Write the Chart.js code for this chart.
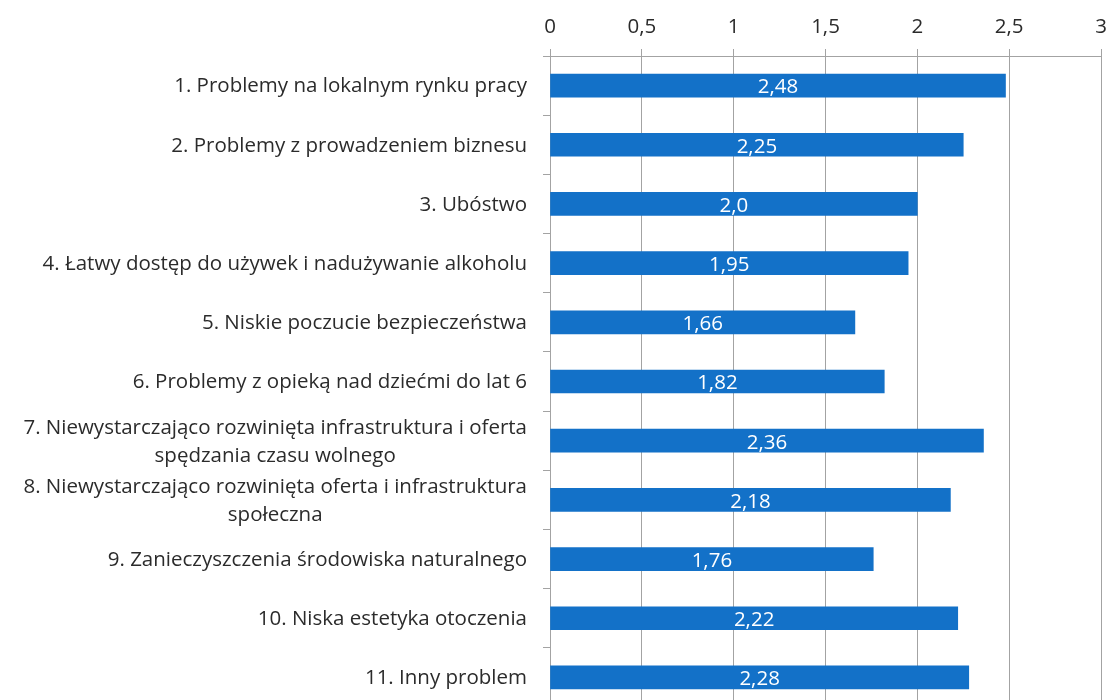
<!DOCTYPE html>
<html lang="pl">
<head>
<meta charset="utf-8">
<title>Problemy</title>
<script src="https://cdn.jsdelivr.net/npm/chart.js@4/dist/chart.umd.min.js"></script>
<style>
  html, body { margin: 0; padding: 0; background: #fff; overflow: hidden; }
  #wrap { width: 1109px; height: 707px; }
</style>
</head>
<body>
<div id="wrap"><canvas id="chart" width="1109" height="707"></canvas></div>
<script>
// kategorie (wiele linii = tablica), wartosci srednie i podzialka osi X
var categories = [
    ['1. Problemy na lokalnym rynku pracy'],
    ['2. Problemy z prowadzeniem biznesu'],
    ['3. Ubóstwo'],
    ['4. Łatwy dostęp do używek i nadużywanie alkoholu'],
    ['5. Niskie poczucie bezpieczeństwa'],
    ['6. Problemy z opieką nad dziećmi do lat 6'],
    ['7. Niewystarczająco rozwinięta infrastruktura i oferta', 'spędzania czasu wolnego'],
    ['8. Niewystarczająco rozwinięta oferta i infrastruktura', 'społeczna'],
    ['9. Zanieczyszczenia środowiska naturalnego'],
    ['10. Niska estetyka otoczenia'],
    ['11. Inny problem']
];
var values = [2.48, 2.25, 2.0, 1.95, 1.66, 1.82, 2.36, 2.18, 1.76, 2.22, 2.28];
var xTicks = [0, 0.5, 1, 1.5, 2, 2.5, 3];

var FONT = '"Open Sans", "Liberation Sans", sans-serif';
var FONT_SIZE = 20.5;
var TEXT = '#2b2b2b';
var GRID = '#a3a3a3';
var BAR = '#1371c8';
var LABEL_RIGHT = 527;
var LINE_GAP = 28;

function plNumber(v) {
    return (v % 1 === 0 ? v.toFixed(1) : String(v)).replace('.', ',');
}

// etykiety kategorii: blok wyrownany do prawej, linie wysrodkowane wzgledem siebie
var categoryLabels = {
    id: 'categoryLabels',
    afterDraw: function (chart) {
        var ctx = chart.ctx;
        var y = chart.scales.y;
        ctx.save();
        ctx.font = FONT_SIZE + 'px ' + FONT;
        ctx.fillStyle = TEXT;
        ctx.textAlign = 'center';
        ctx.textBaseline = 'middle';
        categories.forEach(function (lines, i) {
            var cy = y.getPixelForValue(i);
            var w = Math.max.apply(null, lines.map(function (l) { return ctx.measureText(l).width; }));
            var cx = LABEL_RIGHT - w / 2;
            lines.forEach(function (line, j) {
                ctx.fillText(line, cx, cy + 1 + (j - (lines.length - 1) / 2) * LINE_GAP);
            });
        });
        ctx.restore();
    }
};

// wartosci wpisane na srodku slupka
var valueLabels = {
    id: 'valueLabels',
    afterDatasetsDraw: function (chart) {
        var ctx = chart.ctx;
        var meta = chart.getDatasetMeta(0);
        ctx.save();
        ctx.font = FONT_SIZE + 'px ' + FONT;
        ctx.fillStyle = '#ffffff';
        ctx.textAlign = 'center';
        ctx.textBaseline = 'middle';
        meta.data.forEach(function (bar, i) {
            ctx.fillText(plNumber(values[i]), (bar.x + bar.base) / 2, bar.y + 2);
        });
        ctx.restore();
    }
};

new Chart(document.getElementById('chart'), {
    type: 'bar',
    data: {
        labels: categories,
        datasets: [{
            data: values,
            backgroundColor: BAR,
            borderWidth: 0,
            barThickness: 23
        }]
    },
    options: {
        indexAxis: 'y',
        responsive: false,
        animation: false,
        devicePixelRatio: 1,
        layout: { padding: { left: 0, right: 8, top: 0, bottom: 0 } },
        plugins: {
            legend: { display: false },
            tooltip: { enabled: false }
        },
        scales: {
            x: {
                position: 'top',
                min: xTicks[0],
                max: xTicks[xTicks.length - 1],
                afterBuildTicks: function (scale) {
                    scale.ticks = xTicks.map(function (v) { return { value: v }; });
                },
                afterFit: function (scale) {
                    scale.height = 56;
                    scale.paddingLeft = 0;
                    scale.paddingRight = 0;
                },
                border: { color: GRID, width: 1 },
                grid: { color: GRID, lineWidth: 1, tickLength: 7 },
                ticks: {
                    color: TEXT,
                    padding: 10,
                    font: { family: FONT, size: FONT_SIZE },
                    callback: function (v) { return String(v).replace('.', ','); }
                }
            },
            y: {
                afterFit: function (scale) { scale.width = 550; },
                border: { color: GRID, width: 1 },
                grid: { color: GRID, drawOnChartArea: false, tickLength: 7, offset: true },
                ticks: { display: false }
            }
        }
    },
    plugins: [categoryLabels, valueLabels]
});
</script>
</body>
</html>
